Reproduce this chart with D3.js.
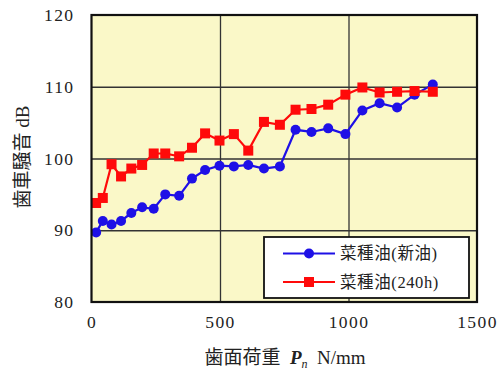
<!DOCTYPE html>
<html>
<head>
<meta charset="utf-8">
<script src="https://cdn.jsdelivr.net/npm/d3@7"></script>
<style>
  html, body { margin: 0; padding: 0; background: #fff; }
  svg { display: block; }
  text { font-family: "Liberation Serif", "Times New Roman", "DejaVu Serif", "Noto Sans CJK JP", serif; fill: #222; white-space: pre; }
</style>
</head>
<body>
<svg id="chart" width="500" height="371"></svg>
<script>
// Tooth load (N/mm) at each measurement
const loads = [18, 44, 78, 115, 155, 197, 242, 287, 341, 391, 442, 498, 554, 610,
               671, 733, 794, 856, 921, 988, 1054, 1121, 1189, 1257, 1328];
// Gear noise (dB): fresh rapeseed oil
const noiseNew = [89.7, 91.3, 90.8, 91.3, 92.4, 93.2, 93.0, 95.0, 94.8, 97.2, 98.4, 99.0, 98.9,
                  99.1, 98.6, 98.9, 104.0, 103.7, 104.2, 103.4, 106.7, 107.7, 107.1, 108.9, 110.3];
// Gear noise (dB): rapeseed oil after 240 h
const noise240 = [93.8, 94.5, 99.2, 97.5, 98.6, 99.1, 100.7, 100.7, 100.3, 101.5, 103.5, 102.5, 103.4,
                  101.1, 105.1, 104.7, 106.8, 106.9, 107.5, 108.9, 109.9, 109.2, 109.3, 109.4, 109.3];
const xTicks = [0, 500, 1000, 1500];
const yTicks = [80, 90, 100, 110, 120];
const seriesNames = ["菜種油(新油)", "菜種油(240h)"];

const svg = d3.select("#chart");
const plot = { left: 91.5, right: 477, top: 15, bottom: 302 };

const x = d3.scaleLinear().domain([0, 1500]).range([plot.left, plot.right]);
const y = d3.scaleLinear().domain([80, 120]).range([plot.bottom, plot.top]);
const serif = '"Liberation Serif", "Times New Roman", "DejaVu Serif", serif';

// plot background
svg.append("rect")
  .attr("x", plot.left).attr("y", plot.top)
  .attr("width", plot.right - plot.left).attr("height", plot.bottom - plot.top)
  .attr("fill", "#FAF8C8");

// grid lines
svg.append("g")
  .attr("transform", `translate(0,${plot.bottom})`)
  .call(d3.axisBottom(x).tickValues(xTicks.slice(1, -1)).tickSize(-(plot.bottom - plot.top)).tickFormat(""))
  .call(g => g.select(".domain").remove())
  .call(g => g.selectAll("line").attr("stroke", "#333").attr("stroke-width", 1.3));
svg.append("g")
  .attr("transform", `translate(${plot.left},0)`)
  .call(d3.axisLeft(y).tickValues(yTicks.slice(1, -1)).tickSize(-(plot.right - plot.left)).tickFormat(""))
  .call(g => g.select(".domain").remove())
  .call(g => g.selectAll("line").attr("stroke", "#333").attr("stroke-width", 1.3));

// tick labels
svg.append("g")
  .attr("transform", `translate(0,${plot.bottom})`)
  .call(d3.axisBottom(x).tickValues(xTicks).tickSize(0).tickPadding(14).tickFormat(d3.format("d")))
  .call(g => g.select(".domain").remove())
  .call(g => g.selectAll("text")
    .style("font-family", serif).attr("font-size", 17.5).attr("letter-spacing", 1.4).attr("fill", "#222"));
svg.append("g")
  .attr("transform", `translate(${plot.left},0)`)
  .call(d3.axisLeft(y).tickValues(yTicks).tickSize(0).tickPadding(17).tickFormat(d3.format("d")))
  .call(g => g.select(".domain").remove())
  .call(g => g.selectAll("text")
    .style("font-family", serif).attr("font-size", 17.5).attr("letter-spacing", 1.4).attr("fill", "#222"));

// series
const line = d3.line().x((d, i) => x(loads[i])).y(d => y(d));
svg.append("path").datum(noiseNew)
  .attr("d", line).attr("fill", "none").attr("stroke", "#1E10E6").attr("stroke-width", 2.2);
svg.append("path").datum(noise240)
  .attr("d", line).attr("fill", "none").attr("stroke", "#FF0A0A").attr("stroke-width", 2.2);

svg.append("g").selectAll("circle").data(noiseNew).join("circle")
  .attr("cx", (d, i) => x(loads[i])).attr("cy", d => y(d)).attr("r", 5)
  .attr("fill", "#1E10E6");
svg.append("g").selectAll("rect").data(noise240).join("rect")
  .attr("x", (d, i) => x(loads[i]) - 5).attr("y", d => y(d) - 5)
  .attr("width", 10).attr("height", 10).attr("fill", "#FF0A0A");

// plot frame
svg.append("rect")
  .attr("x", plot.left).attr("y", plot.top)
  .attr("width", plot.right - plot.left).attr("height", plot.bottom - plot.top)
  .attr("fill", "none").attr("stroke", "#111").attr("stroke-width", 2.2);

// legend
const lg = svg.append("g");
lg.append("rect").attr("x", 264).attr("y", 237).attr("width", 205).attr("height", 61)
  .attr("fill", "#fff").attr("stroke", "#111").attr("stroke-width", 1.8);
const legendRows = [
  { name: seriesNames[0], color: "#1E10E6", shape: "circle", cy: 253.5 },
  { name: seriesNames[1], color: "#FF0A0A", shape: "square", cy: 282 }
];
legendRows.forEach(r => {
  lg.append("line").attr("x1", 283).attr("x2", 335).attr("y1", r.cy).attr("y2", r.cy)
    .attr("stroke", r.color).attr("stroke-width", 2.2);
  if (r.shape === "circle") {
    lg.append("circle").attr("cx", 309).attr("cy", r.cy).attr("r", 5).attr("fill", r.color);
  } else {
    lg.append("rect").attr("x", 304).attr("y", r.cy - 5).attr("width", 10).attr("height", 10).attr("fill", r.color);
  }
  lg.append("text").attr("x", 340).attr("y", r.cy).attr("dy", "0.36em")
    .attr("font-size", 16.5).attr("letter-spacing", 0.6).text(r.name);
});

// axis titles
svg.append("text")
  .attr("transform", "translate(29,157) rotate(-90)")
  .attr("text-anchor", "middle").attr("font-size", 19)
  .text("歯車騒音 dB");

const xt = svg.append("text").attr("x", 285).attr("y", 364)
  .attr("text-anchor", "middle").attr("font-size", 19);
xt.append("tspan").text("歯面荷重  ");
xt.append("tspan").attr("font-style", "italic").attr("font-weight", "bold").text("P");
xt.append("tspan").attr("font-style", "italic").attr("font-size", 12).attr("dy", 4).text("n");
xt.append("tspan").attr("dy", -4).text("  N/mm");
</script>
</body>
</html>
